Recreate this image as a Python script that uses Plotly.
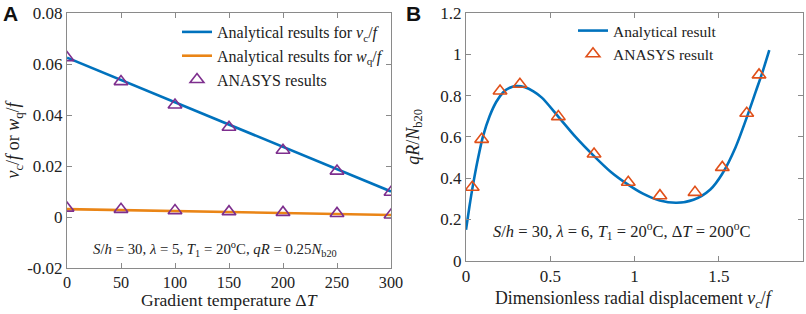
import plotly.graph_objects as go

# ---------------- Panel A data ----------------
dT = [0, 50, 100, 150, 200, 250, 300]
vc_analytical = [0.0625, 0.0538, 0.0451, 0.0363, 0.0275, 0.0188, 0.0100]
wq_analytical = [0.0031, 0.0027, 0.0023, 0.0019, 0.0015, 0.0011, 0.0008]
vc_ansys = [0.0625, 0.0531, 0.0439, 0.0352, 0.0262, 0.0180, 0.0097]
wq_ansys = [0.0035, 0.0030, 0.0025, 0.0021, 0.0018, 0.0014, 0.0008]

a_xticks = [0, 50, 100, 150, 200, 250, 300]
a_yticks = [-0.02, 0, 0.02, 0.04, 0.06, 0.08]
a_yticktext = ["-0.02", "0", "0.02", "0.04", "0.06", "0.08"]

# ---------------- Panel B data ----------------
disp_curve = [0, 0.02, 0.04, 0.07, 0.1, 0.14, 0.18, 0.22, 0.26, 0.3, 0.35, 0.4, 0.45,
              0.55, 0.65, 0.76, 0.86, 0.96, 1.05, 1.15, 1.25, 1.35, 1.45, 1.52,
              1.6, 1.675, 1.72, 1.76, 1.8]
load_curve = [0.15, 0.26, 0.36, 0.49, 0.6, 0.7, 0.77, 0.815, 0.838, 0.846, 0.84, 0.82, 0.79,
              0.696, 0.6, 0.507, 0.43, 0.37, 0.325, 0.292, 0.281, 0.295, 0.345, 0.42,
              0.55, 0.714, 0.82, 0.915, 1.02]
disp_ansys = [0.037, 0.093, 0.202, 0.32, 0.548, 0.76, 0.963, 1.151, 1.359, 1.521, 1.666, 1.739]
load_ansys = [0.356, 0.588, 0.822, 0.855, 0.698, 0.517, 0.38, 0.315, 0.331, 0.452, 0.714, 0.9]

b_xticks = [0, 0.5, 1, 1.5, 2]
b_xticktext = ["0", "0.5", "1", "1.5", "2"]
b_yticks = [0, 0.2, 0.4, 0.6, 0.8, 1.0, 1.2]
b_yticktext = ["0", "0.2", "0.4", "0.6", "0.8", "1", "1.2"]

W, H = 806, 314
SERIF = "Liberation Serif, Times New Roman, Times, serif"
BLUE = "#0072BD"
ORANGE_A = "#EA8516"
PURPLE = "#7E2F8E"
RED_ORANGE = "#E0501A"
AXC = "#8a8a8a"
TXT = "#222222"

fig = go.Figure()

fig.add_trace(go.Scatter(x=dT, y=vc_analytical, mode="lines",
                         line=dict(color=BLUE, width=2.6),
                         name="Analytical results for <i>v</i><sub>c</sub>/<i>f</i>",
                         xaxis="x", yaxis="y", legend="legend"))
fig.add_trace(go.Scatter(x=dT, y=wq_analytical, mode="lines",
                         line=dict(color=ORANGE_A, width=2.6),
                         name="Analytical results for <i>w</i><sub>q</sub>/<i>f</i>",
                         xaxis="x", yaxis="y", legend="legend"))
fig.add_trace(go.Scatter(x=dT, y=vc_ansys, mode="markers",
                         marker=dict(symbol="triangle-up-open", size=12, color=PURPLE,
                                     line=dict(width=1.6, color=PURPLE)),
                         name="ANASYS results", xaxis="x", yaxis="y", legend="legend"))
fig.add_trace(go.Scatter(x=dT, y=wq_ansys, mode="markers",
                         marker=dict(symbol="triangle-up-open", size=12, color=PURPLE,
                                     line=dict(width=1.6, color=PURPLE)),
                         name="ANASYS results", showlegend=False,
                         xaxis="x", yaxis="y"))

fig.add_trace(go.Scatter(x=disp_curve, y=load_curve, mode="lines",
                         line=dict(color=BLUE, width=2.6, shape="spline", smoothing=0.8),
                         name="Analytical result", xaxis="x2", yaxis="y2", legend="legend2"))
fig.add_trace(go.Scatter(x=disp_ansys, y=load_ansys, mode="markers",
                         marker=dict(symbol="triangle-up-open", size=12, color=RED_ORANGE,
                                     line=dict(width=1.6, color=RED_ORANGE)),
                         name="ANASYS result", xaxis="x2", yaxis="y2", legend="legend2"))

axis_common = dict(showline=True, linecolor=AXC, linewidth=1, mirror="ticks",
                   ticks="inside", ticklen=5, tickcolor=AXC, showgrid=False,
                   zeroline=False, automargin=False)
tick_font = dict(family=SERIF, size=17, color=TXT)
tick_font_ax = dict(family=SERIF, size=16.2, color=TXT)

fig.update_layout(
    width=W, height=H, margin=dict(l=0, r=0, t=0, b=0, pad=0, autoexpand=False),
    paper_bgcolor="white", plot_bgcolor="white",
    font=dict(family=SERIF, size=15, color=TXT),
    xaxis=dict(domain=[67 / W, 391 / W], range=[0, 300], tickvals=a_xticks,
               tickfont=tick_font_ax, anchor="y", **axis_common),
    yaxis=dict(domain=[1 - 268 / H, 1 - 13 / H], range=[-0.02, 0.08], tickvals=a_yticks,
               ticktext=a_yticktext, tickfont=tick_font,
               title=dict(text="<i>v</i><sub>c</sub>/<i>f</i> or <i>w</i><sub>q</sub>/<i>f</i>",
                          font=dict(family=SERIF, size=18), standoff=2),
               anchor="x", **axis_common),
    xaxis2=dict(domain=[466 / W, 803 / W], range=[0, 2], tickvals=b_xticks, ticktext=b_xticktext,
                tickfont=tick_font, anchor="y2", **axis_common),
    yaxis2=dict(domain=[1 - 260.7 / H, 1 - 13 / H], range=[0, 1.2], tickvals=b_yticks,
                ticktext=b_yticktext, tickfont=tick_font,
                title=dict(text="<i>qR</i>/<i>N</i><sub>b20</sub>",
                           font=dict(family=SERIF, size=18), standoff=16),
                anchor="x2", **axis_common),
    legend=dict(x=177 / W, y=1 - 15 / H, xanchor="left", yanchor="top",
                bgcolor="rgba(0,0,0,0)", font=dict(family=SERIF, size=16, color=TXT),
                tracegroupgap=0),
    legend2=dict(x=573 / W, y=1 - 14 / H, xanchor="left", yanchor="top",
                 bgcolor="rgba(0,0,0,0)", font=dict(family=SERIF, size=15.5, color=TXT)),
    showlegend=True,
)

# x-axis titles placed as paper annotations
fig.add_annotation(xref="paper", yref="paper", x=229 / W, y=1 - 300 / H,
                   xanchor="center", yanchor="middle", showarrow=False,
                   text="Gradient temperature Δ<i>T</i>",
                   font=dict(family=SERIF, size=17.6, color=TXT))
fig.add_annotation(xref="paper", yref="paper", x=634 / W, y=1 - 299 / H,
                   xanchor="center", yanchor="middle", showarrow=False,
                   text="Dimensionless radial displacement <i>v</i><sub><i>c</i></sub>/<i>f</i>",
                   font=dict(family=SERIF, size=17.8, color=TXT))

fig.add_annotation(xref="paper", yref="paper", x=215 / W, y=1 - 249 / H,
                   xanchor="center", yanchor="middle", showarrow=False,
                   text="<i>S</i>/<i>h</i> = 30, <i>λ</i> = 5, <i>T</i><sub>1</sub> = 20<sup>o</sup>C, "
                        "<i>qR</i> = 0.25<i>N</i><sub>b20</sub>",
                   font=dict(family=SERIF, size=14.8, color=TXT))
fig.add_annotation(xref="paper", yref="paper", x=622 / W, y=1 - 231 / H,
                   xanchor="center", yanchor="middle", showarrow=False,
                   text="<i>S</i>/<i>h</i> = 30, <i>λ</i> = 6, <i>T</i><sub>1</sub> = 20<sup>o</sup>C, "
                        "Δ<i>T</i> = 200<sup>o</sup>C",
                   font=dict(family=SERIF, size=16.5, color=TXT))

fig.add_annotation(xref="paper", yref="paper", x=1 / W, y=1 - 0 / H, xanchor="left", yanchor="top",
                   showarrow=False, text="<b>A</b>",
                   font=dict(family="Liberation Sans, Arial, sans-serif", size=21, color="#111111"))
fig.add_annotation(xref="paper", yref="paper", x=404 / W, y=1 - 0 / H, xanchor="left", yanchor="top",
                   showarrow=False, text="<b>B</b>",
                   font=dict(family="Liberation Sans, Arial, sans-serif", size=21, color="#111111"))

fig.write_html("out.html", config={"displayModeBar": False},
               post_script="document.body.style.margin='0px';document.body.style.padding='0px';")
